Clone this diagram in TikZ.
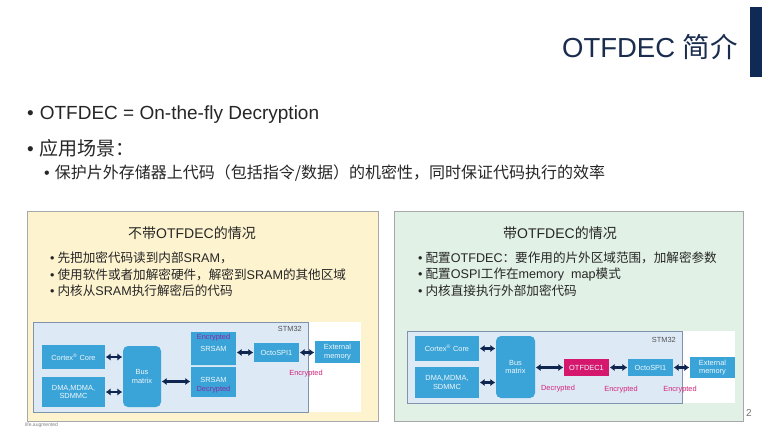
\documentclass[tikz,border=0pt]{standalone}
\usepackage{fontspec}
\setmainfont{Liberation Sans}
\newfontfamily\cjk{Noto Sans CJK SC}
\usetikzlibrary{arrows.meta}
\newcommand{\zh}[1]{{\cjk #1}}
\definecolor{navy}{HTML}{1B2D4F}
\definecolor{barnavy}{HTML}{0F2A55}
\definecolor{yellowbg}{HTML}{FDF3CF}
\definecolor{greenbg}{HTML}{E2F1E6}
\definecolor{panelline}{HTML}{A6A9AC}
\definecolor{stmbg}{HTML}{DDEAF6}
\definecolor{stmline}{HTML}{7F93AD}
\definecolor{stblue}{HTML}{3AA3D7}
\definecolor{arrowc}{HTML}{0E2650}
\definecolor{magent}{HTML}{D4237A}
\definecolor{purp}{HTML}{8A2BA8}
\definecolor{otfc}{HTML}{D5176E}
\definecolor{bodytext}{HTML}{262626}
\tikzset{
  blk/.style={fill=stblue, draw=none, text=white!92!stblue, font=\fontsize{7.4}{8.4}\selectfont, align=center, inner sep=0pt},
  dar/.style={{Latex[length=5pt,width=7.5pt]}-{Latex[length=5pt,width=7.5pt]}, line width=2.8pt, draw=arrowc, shorten <=0.5pt, shorten >=0.5pt},
  lbl/.style={font=\fontsize{7.4}{8.4}\selectfont, inner sep=0pt},
  bul/.style={anchor=west, inner sep=0pt, text=bodytext},
}
\begin{document}
\begin{tikzpicture}[x=1pt,y=-1pt]
\useasboundingbox (0,0) rectangle (770,431);
\fill[white] (0,0) rectangle (770,431);
% header
\fill[barnavy] (750,7) rectangle (762,77);
\node[anchor=east, inner sep=0pt, text=navy, font=\fontsize{27.5}{31}\selectfont] (title) at (738,47) {OTFDEC \zh{简介}};
% main bullets
\node[bul, font=\fontsize{19}{22}\selectfont] (b1) at (27,115) {•\hspace{6pt}OTFDEC = On-the-fly Decryption};
\node[bul, font=\fontsize{19}{22}\selectfont] (b2) at (27,148) {•\hspace{6pt}\zh{应用场景：}};
\node[bul, font=\fontsize{16}{18}\selectfont] (b3) at (44,173) {•\hspace{5pt}\zh{保护片外存储器上代码（包括指令/数据）的机密性，同时保证代码执行的效率}};

% ===== left panel =====
\draw[panelline, fill=yellowbg] (27,211) rectangle (378,421);
\node[inner sep=0pt, text=bodytext, font=\fontsize{14}{16}\selectfont] (ltitle) at (192,233) {\zh{不带}OTFDEC\zh{的情况}};
\node[bul, font=\fontsize{12.6}{14}\selectfont] (l1) at (50,258) {\textbullet\hspace{3pt}\zh{先把加密代码读到内部}SRAM\zh{，}};
\node[bul, font=\fontsize{12.6}{14}\selectfont] (l2) at (50,275) {\textbullet\hspace{3pt}\zh{使用软件或者加解密硬件，解密到}SRAM\zh{的其他区域}};
\node[bul, font=\fontsize{12.6}{14}\selectfont] (l3) at (50,291) {\textbullet\hspace{3pt}\zh{内核从}SRAM\zh{执行解密后的代码}};

\fill[white] (33,322) rectangle (361,412);
\draw[stmline, fill=stmbg] (33,322) rectangle (308,412);
\node[lbl, anchor=east, text=bodytext!80] (stmL) at (302,329) {STM32};
\node[blk, minimum width=63pt, minimum height=24pt] (cortexL) at (73.5,357) {Cortex\textsuperscript{®} Core};
\node[blk, minimum width=63pt, minimum height=30pt] (dmaL) at (73.5,392) {DMA,MDMA,\\SDMMC};
\node[blk, minimum width=38pt, minimum height=61pt, rounded corners=5pt] (busL) at (142,376.5) {Bus\\matrix};
\node[blk, minimum width=45pt, minimum height=33pt] (sramT) at (213.5,348.5) {};
\node[blk, minimum width=45pt, minimum height=30pt] (sramB) at (213.5,381.5) {};
\draw[white!70!stblue, line width=0.6pt] (sramT.south west) -- (sramT.south east);
\node[lbl, text=purp] (encT) at (213.5,337.5) {Encrypted};
\node[lbl, text=white!92!stblue] (sramTt) at (213.5,348.5) {SRSAM};
\node[lbl, text=white!92!stblue] (sramBt) at (213.5,379.5) {SRSAM};
\node[lbl, text=purp] (decB) at (213.5,389.5) {Decrypted};
\node[blk, minimum width=45pt, minimum height=19pt] (octoL) at (276.5,352.5) {OctoSPI1};
\node[blk, minimum width=45pt, minimum height=22pt] (extL) at (337.5,352) {External\\memory};
\node[lbl, text=magent] (encL) at (306,373.5) {Encrypted};
\draw[dar] (cortexL.east) -- (cortexL.east -| busL.west);
\draw[dar] (dmaL.east) -- (dmaL.east -| busL.west);
\draw[dar] (sramB.west -| busL.east) -- (sramB.west);
\draw[dar] (octoL.west -| sramT.east) -- (octoL.west);
\draw[dar] (octoL.east) -- (octoL.east -| extL.west);

% ===== right panel =====
\draw[panelline, fill=greenbg] (394,211) rectangle (743,421);
\node[inner sep=0pt, text=bodytext, font=\fontsize{14}{16}\selectfont] (rtitle) at (560,233) {\zh{带}OTFDEC\zh{的情况}};
\node[bul, font=\fontsize{12.6}{14}\selectfont] (r1) at (418,258) {\textbullet\hspace{3pt}\zh{配置}OTFDEC\zh{：要作用的片外区域范围，加解密参数}};
\node[bul, font=\fontsize{12.6}{14}\selectfont] (r2) at (418,275) {\textbullet\hspace{3pt}\zh{配置}OSPI\zh{工作在}memory\ \ map\zh{模式}};
\node[bul, font=\fontsize{12.6}{14}\selectfont] (r3) at (418,291) {\textbullet\hspace{3pt}\zh{内核直接执行外部加密代码}};

\fill[white] (407,331) rectangle (735,403);
\draw[stmline, fill=stmbg] (407,331) rectangle (682,403);
\node[lbl, anchor=east, text=bodytext!80] (stmR) at (676,340) {STM32};
\node[blk, minimum width=64pt, minimum height=25pt] (cortexR) at (447,348.5) {Cortex\textsuperscript{®} Core};
\node[blk, minimum width=64pt, minimum height=31pt] (dmaR) at (447,382.5) {DMA,MDMA,\\SDMMC};
\node[blk, minimum width=39pt, minimum height=62pt, rounded corners=5pt] (busR) at (515.5,367) {Bus\\matrix};
\node[blk, fill=otfc, minimum width=45pt, minimum height=17pt] (otf) at (586.5,367.5) {OTFDEC1};
\node[blk, minimum width=45pt, minimum height=17pt] (octoR) at (650.5,367.5) {OctoSPI1};
\node[blk, minimum width=45pt, minimum height=21pt] (extR) at (712.5,367.5) {External\\memory};
\node[lbl, text=magent] (decR) at (558,388.5) {Decrypted};
\node[lbl, text=magent] (encR1) at (621,389.5) {Encrypted};
\node[lbl, text=magent] (encR2) at (680,389.5) {Encrypted};
\draw[dar] (cortexR.east) -- (cortexR.east -| busR.west);
\draw[dar] (dmaR.east) -- (dmaR.east -| busR.west);
\draw[dar] (otf.west -| busR.east) -- (otf.west);
\draw[dar] (otf.east) -- (octoR.west);
\draw[dar] (octoR.east) -- (extR.west);

% footer
\node[inner sep=0pt, text=black!55, font=\fontsize{10}{12}\selectfont] (pnum) at (749,413) {2};
\node[anchor=west, inner sep=0pt, text=black!50, font=\fontsize{5}{6}\selectfont] (life) at (25,425) {life.augmented};
\end{tikzpicture}
\end{document}
